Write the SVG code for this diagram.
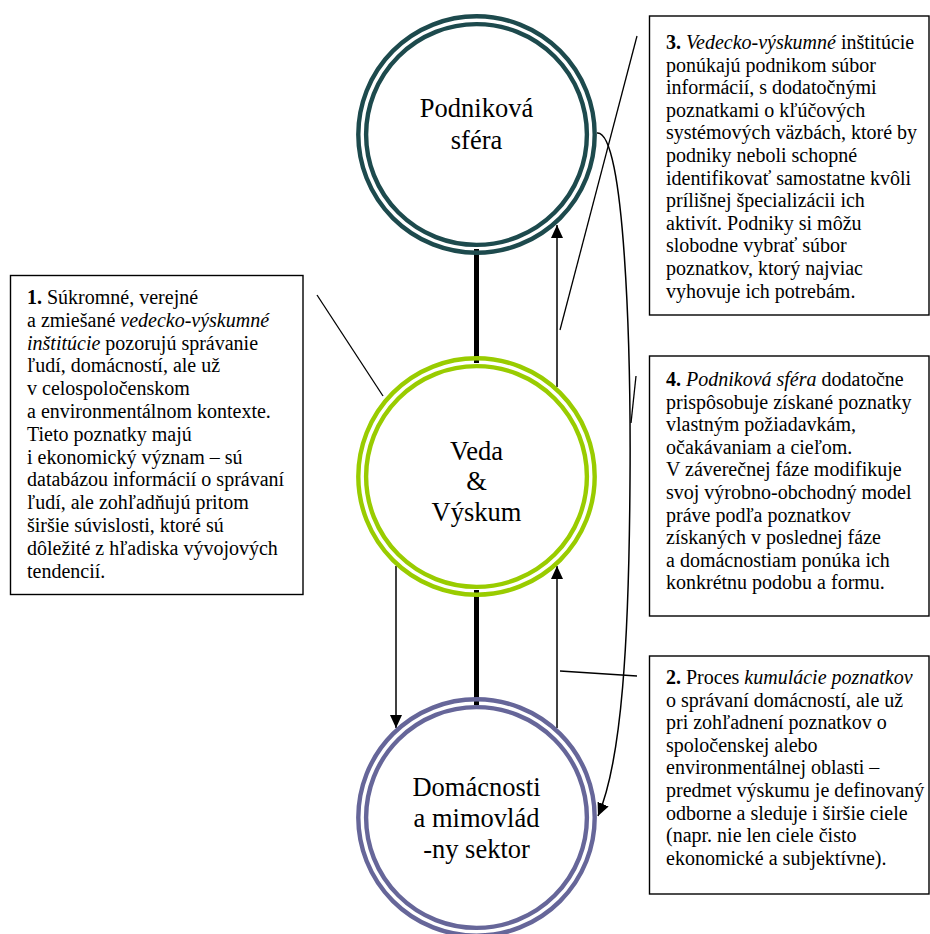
<svg xmlns="http://www.w3.org/2000/svg" width="930" height="934" viewBox="0 0 930 934">
<style>
  .ring-o { fill: none; stroke-width: 4.4; }
  .ring-i { fill: #ffffff; stroke-width: 4.4; }
  .teal { stroke: #1d4a4d; }
  .green { stroke: #99cc00; }
  .purple { stroke: #666699; }
  text { font-family: 'Liberation Serif', serif; fill: #000; font-weight: normal; font-style: normal; }
  .ctext { font-size: 26.5px; text-anchor: middle; }
  .box { fill: #ffffff; stroke: #000; stroke-width: 1.4; }
  .btext { font-size: 20px; }
  .b { font-weight: bold; }
  .i { font-style: italic; }
  .thick { stroke: #000; stroke-width: 5; fill: none; }
  .arrow { stroke: #000; stroke-width: 1.5; fill: none; }
  .callout { stroke: #000; stroke-width: 1.3; fill: none; }
</style>
<defs>
  <marker id="ah" markerUnits="userSpaceOnUse" markerWidth="14" markerHeight="12" refX="13" refY="6" orient="auto">
    <path d="M0,0 L13,6 L0,12 Z" fill="#000"/>
  </marker>
</defs>

<g id="connectors">
  <line class="thick" x1="476.5" y1="249" x2="476.5" y2="363"/>
  <line class="thick" x1="476.5" y1="590" x2="476.5" y2="705"/>
  <line class="arrow" x1="557" y1="387" x2="557" y2="225" marker-end="url(#ah)"/>
  <line class="arrow" x1="557" y1="728" x2="557" y2="566" marker-end="url(#ah)"/>
  <line class="arrow" x1="396" y1="566" x2="396" y2="728" marker-end="url(#ah)"/>
  <path class="arrow" d="M597,133 C625,130 631,350 630,480 C629,640 622,760 598,816" marker-end="url(#ah)"/>
  <line class="callout" x1="317" y1="295" x2="383" y2="396"/>
  <line class="callout" x1="637" y1="36" x2="560" y2="330"/>
  <line class="callout" x1="636" y1="376" x2="631" y2="423"/>
  <line class="callout" x1="637" y1="676" x2="560" y2="671"/>
</g>

<g id="node-podnikova-sfera">
  <circle class="ring-o teal" cx="476.5" cy="134.5" r="118.2"/>
  <circle class="ring-i teal" cx="476.5" cy="134.5" r="110.4"/>
  <text class="ctext" x="476.5" y="117">Podniková</text>
  <text class="ctext" x="476.5" y="149">sféra</text>
</g>

<g id="node-veda-vyskum">
  <circle class="ring-o green" cx="476.5" cy="476.5" r="118.2"/>
  <circle class="ring-i green" cx="476.5" cy="476.5" r="110.4"/>
  <text class="ctext" x="476.5" y="460">Veda</text>
  <text class="ctext" x="476.5" y="490">&amp;</text>
  <text class="ctext" x="476.5" y="521">Výskum</text>
</g>

<g id="node-domacnosti">
  <circle class="ring-o purple" cx="476.5" cy="817.5" r="118.2"/>
  <circle class="ring-i purple" cx="476.5" cy="817.5" r="110.4"/>
  <text class="ctext" x="476.5" y="796">Domácnosti</text>
  <text class="ctext" x="476.5" y="827">a mimovlád</text>
  <text class="ctext" x="476.5" y="858">-ny sektor</text>
</g>

<g id="box-1">
  <rect class="box" x="10.5" y="275.5" width="292.5" height="319"/>
  <text class="btext" x="27" y="304"><tspan class="b">1.</tspan> Súkromné, verejné</text>
  <text class="btext" x="27" y="326.8">a zmiešané <tspan class="i">vedecko-výskumné</tspan></text>
  <text class="btext" x="27" y="349.6"><tspan class="i">inštitúcie</tspan> pozorujú správanie</text>
  <text class="btext" x="27" y="372.4">ľudí, domácností, ale už</text>
  <text class="btext" x="27" y="395.2">v celospoločenskom</text>
  <text class="btext" x="27" y="418">a environmentálnom kontexte.</text>
  <text class="btext" x="27" y="440.8">Tieto poznatky majú</text>
  <text class="btext" x="27" y="463.6">i ekonomický význam – sú</text>
  <text class="btext" x="27" y="486.4">databázou informácií o správaní</text>
  <text class="btext" x="27" y="509.2">ľudí, ale zohľadňujú pritom</text>
  <text class="btext" x="27" y="532">širšie súvislosti, ktoré sú</text>
  <text class="btext" x="27" y="554.8">dôležité z hľadiska vývojových</text>
  <text class="btext" x="27" y="577.6">tendencií.</text>
</g>

<g id="box-3">
  <rect class="box" x="649.5" y="16" width="279.5" height="299"/>
  <text class="btext" x="666" y="49"><tspan class="b">3.</tspan> <tspan class="i">Vedecko-výskumné</tspan> inštitúcie</text>
  <text class="btext" x="666" y="71.6">ponúkajú podnikom súbor</text>
  <text class="btext" x="666" y="94.2">informácií, s dodatočnými</text>
  <text class="btext" x="666" y="116.8">poznatkami o kľúčových</text>
  <text class="btext" x="666" y="139.4">systémových väzbách, ktoré by</text>
  <text class="btext" x="666" y="162">podniky neboli schopné</text>
  <text class="btext" x="666" y="184.6">identifikovať samostatne kvôli</text>
  <text class="btext" x="666" y="207.2">prílišnej špecializácii ich</text>
  <text class="btext" x="666" y="229.8">aktivít. Podniky si môžu</text>
  <text class="btext" x="666" y="252.4">slobodne vybrať súbor</text>
  <text class="btext" x="666" y="275">poznatkov, ktorý najviac</text>
  <text class="btext" x="666" y="297.6">vyhovuje ich potrebám.</text>
</g>

<g id="box-4">
  <rect class="box" x="649.5" y="356" width="279.5" height="260"/>
  <text class="btext" x="666" y="386"><tspan class="b">4.</tspan> <tspan class="i">Podniková sféra</tspan> dodatočne</text>
  <text class="btext" x="666" y="408.6">prispôsobuje získané poznatky</text>
  <text class="btext" x="666" y="431.2">vlastným požiadavkám,</text>
  <text class="btext" x="666" y="453.8">očakávaniam a cieľom.</text>
  <text class="btext" x="666" y="476.4">V záverečnej fáze modifikuje</text>
  <text class="btext" x="666" y="499">svoj výrobno-obchodný model</text>
  <text class="btext" x="666" y="521.6">práve podľa poznatkov</text>
  <text class="btext" x="666" y="544.2">získaných v poslednej fáze</text>
  <text class="btext" x="666" y="566.8">a domácnostiam ponúka ich</text>
  <text class="btext" x="666" y="589.4">konkrétnu podobu a formu.</text>
</g>

<g id="box-2">
  <rect class="box" x="649.5" y="656" width="279.5" height="238"/>
  <text class="btext" x="666" y="684"><tspan class="b">2.</tspan> Proces <tspan class="i">kumulácie poznatkov</tspan></text>
  <text class="btext" x="666" y="706.6">o správaní domácností, ale už</text>
  <text class="btext" x="666" y="729.2">pri zohľadnení poznatkov o</text>
  <text class="btext" x="666" y="751.8">spoločenskej alebo</text>
  <text class="btext" x="666" y="774.4">environmentálnej oblasti –</text>
  <text class="btext" x="666" y="797">predmet výskumu je definovaný</text>
  <text class="btext" x="666" y="819.6">odborne a sleduje i širšie ciele</text>
  <text class="btext" x="666" y="842.2">(napr. nie len ciele čisto</text>
  <text class="btext" x="666" y="864.8">ekonomické a subjektívne).</text>
</g>
</svg>
